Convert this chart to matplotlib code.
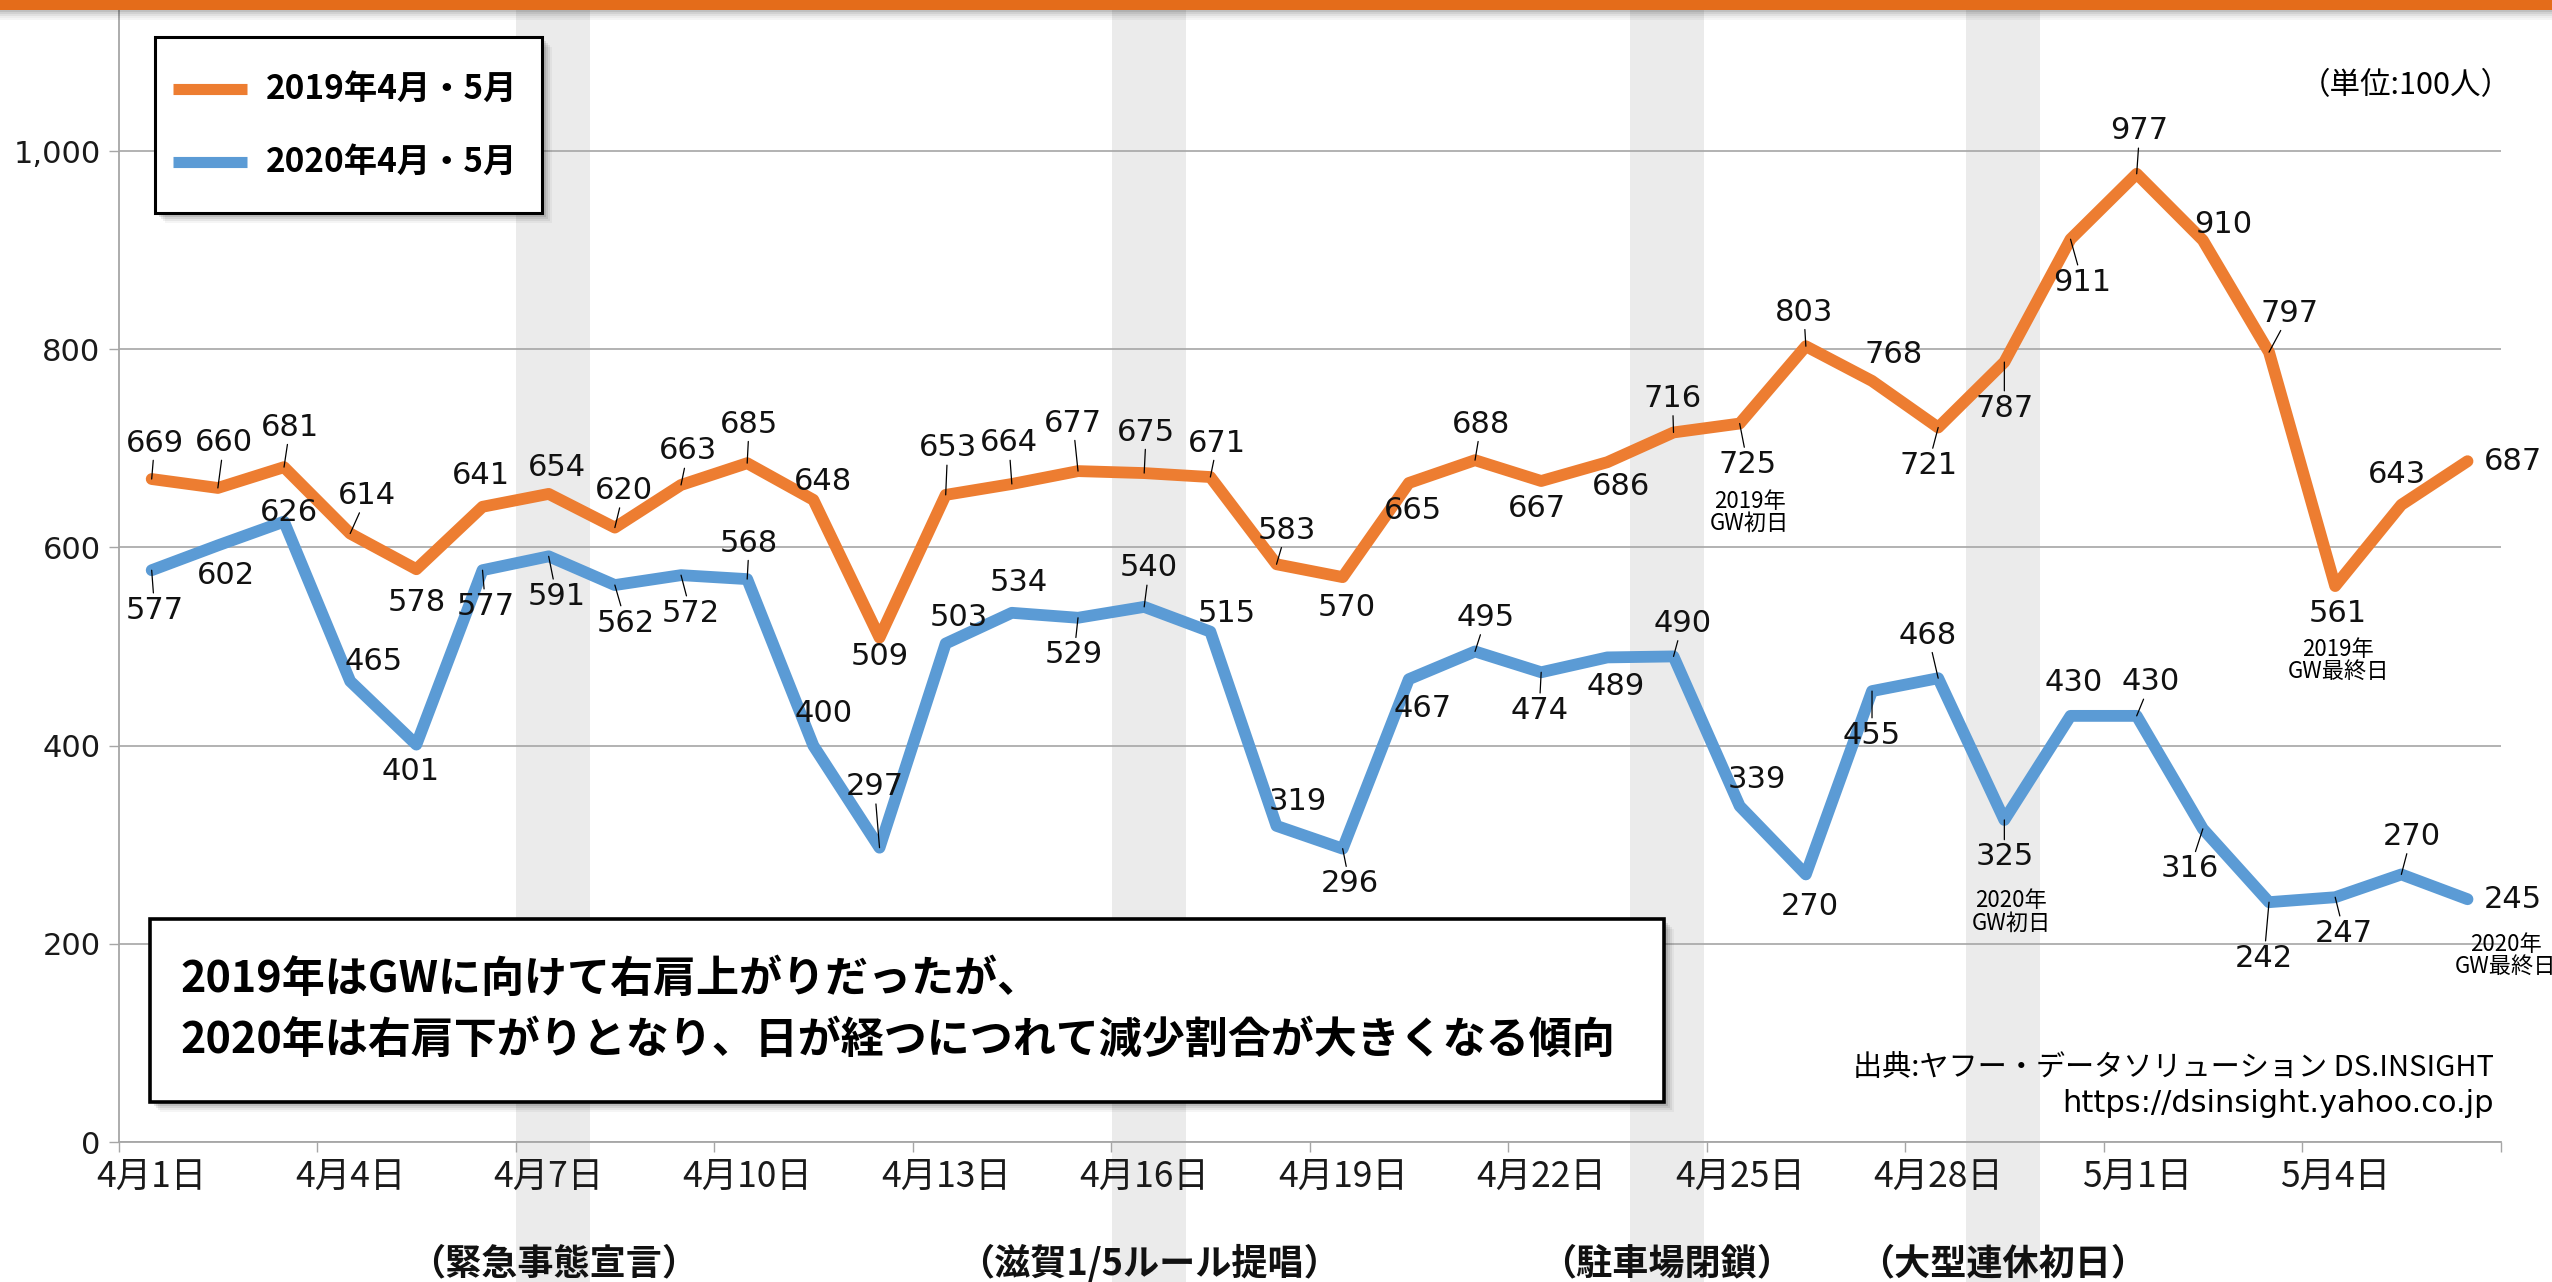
import numpy as np
import matplotlib
matplotlib.use('Agg')
import matplotlib.pyplot as plt
from matplotlib.patches import Rectangle
from matplotlib.lines import Line2D
from matplotlib.transforms import blended_transform_factory
from matplotlib.ticker import FuncFormatter

plt.rcParams['font.family'] = ['Noto Sans CJK JP', 'DejaVu Sans']

# ---------------- data ----------------
dates = ['4月1日', '4月2日', '4月3日', '4月4日', '4月5日', '4月6日', '4月7日', '4月8日',
         '4月9日', '4月10日', '4月11日', '4月12日', '4月13日', '4月14日', '4月15日',
         '4月16日', '4月17日', '4月18日', '4月19日', '4月20日', '4月21日', '4月22日',
         '4月23日', '4月24日', '4月25日', '4月26日', '4月27日', '4月28日', '4月29日',
         '4月30日', '5月1日', '5月2日', '5月3日', '5月4日', '5月5日', '5月6日']
series_names = ['2019年4月・5月', '2020年4月・5月']
visitors_2019 = [669, 660, 681, 614, 578, 641, 654, 620, 663, 685, 648, 509, 653, 664, 677,
                 675, 671, 583, 570, 665, 688, 667, 686, 716, 725, 803, 768, 721, 787, 911,
                 977, 910, 797, 561, 643, 687]
visitors_2020 = [577, 602, 626, 465, 401, 577, 591, 562, 572, 568, 400, 297, 503, 534, 529,
                 540, 515, 319, 296, 467, 495, 474, 489, 490, 339, 270, 455, 468, 325, 430,
                 430, 316, 242, 247, 270, 245]
y_ticks = [0, 200, 400, 600, 800, 1000]
event_dates = ['4月7日', '4月16日', '4月24日', '4月29日']
event_names = ['（緊急事態宣言）', '（滋賀1/5ルール提唱）', '（駐車場閉鎖）', '（大型連休初日）']
notes_2019_dates = ['4月25日', '5月4日']
notes_2019_texts = ['2019年\nGW初日', '2019年\nGW最終日']
notes_2020_dates = ['4月29日', '5月6日']
notes_2020_texts = ['2020年\nGW初日', '2020年\nGW最終日']
unit_text = '（単位:100人）'
message_lines = ['2019年はGWに向けて右肩上がりだったが、',
                 '2020年は右肩下がりとなり、日が経つにつれて減少割合が大きくなる傾向']
source_lines = ['出典:ヤフー・データソリューション DS.INSIGHT', 'https://dsinsight.yahoo.co.jp']

# ---------------- layout (label offsets in px, +y = down) ----------------
off_2019 = [(3, -36), (6, -45), (6, -40), (17, -38), (0, 33), (-2, -31), (8, -26), (9, -37),
            (7, -34), (2, -39), (10, -18), (0, 19), (2, -47), (-3, -41), (-5, -48), (2, -41),
            (7, -34), (10, -34), (4, 30), (4, 28), (6, -36), (-4, 27), (14, 24), (-1, -34),
            (8, 41), (-2, -34), (22, -26), (-10, 38), (0, 46), (12, 43), (3, -43), (20, -16),
            (21, -39), (3, 27), (-4, -30), (45, 0)]
lead_2019 = [1, 1, 1, 1, 0, 0, 0, 1, 1, 1, 0, 0, 1, 1, 1, 1, 1, 1, 0, 0, 1, 0, 0, 1,
             1, 1, 0, 1, 1, 1, 1, 0, 1, 0, 0, 0]
off_2020 = [(3, 40), (8, 30), (5, -9), (23, -20), (-6, 27), (3, 36), (8, 40), (11, 38),
            (10, 38), (2, -36), (10, -32), (-5, -61), (13, -26), (7, -30), (-4, 37), (5, -39),
            (16, -18), (21, -24), (7, 35), (14, 29), (11, -34), (-2, 38), (8, 29), (9, -33),
            (17, -27), (4, 32), (0, 44), (-10, -43), (0, 37), (3, -33), (14, -34), (-13, 40),
            (-5, 56), (9, 36), (10, -38), (45, 0)]
lead_2020 = [1, 0, 0, 0, 0, 1, 1, 1, 1, 1, 0, 1, 0, 0, 1, 1, 0, 0, 1, 0, 1, 1, 0, 1,
             0, 0, 1, 1, 1, 0, 1, 1, 1, 1, 1, 0]
note_off_2019 = [(10, 89), (3, 74)]
note_off_2020 = [(7, 92), (38, 56)]
band_shift = [0.0, 0.0, -0.17, -0.09]

W, H = 2552, 1282
ORANGE = '#ED7D31'
BLUE = '#5B9BD5'
GRID = '#A6A6A6'


def fx(px):
    return px / W


def fy(py):
    return 1 - py / H


fig = plt.figure(figsize=(W / 100, H / 100), dpi=100)
fig.patch.set_facecolor('white')
ax = fig.add_axes([fx(118.6), fy(1142), (2500.6 - 118.6) / W, (1142 - 10) / H])
ax.set_facecolor('white')

x = np.arange(len(dates))
ax.set_xlim(-0.5, len(dates) - 0.5)
ax.set_ylim(0, 1142.3)

# event bands
trans = blended_transform_factory(ax.transData, fig.transFigure)
for d, name, sh in zip(event_dates, event_names, band_shift):
    i = dates.index(d)
    ax.add_patch(Rectangle((i - 0.49 + sh, 0), 1.12, fy(10), transform=trans,
                           facecolor='#EBEBEB', edgecolor='none', zorder=0.2, clip_on=False))
    ax.text(i + 0.07 + sh, fy(1264), name, transform=trans, ha='center', va='center',
            fontsize=26, fontweight='bold', color='#111111')

# lines
ax.plot(x, visitors_2019, color=ORANGE, lw=8.5, solid_joinstyle='round',
        solid_capstyle='round', zorder=3)
ax.plot(x, visitors_2020, color=BLUE, lw=8.5, solid_joinstyle='round',
        solid_capstyle='round', zorder=3)

# axes styling
for s in ['top', 'right']:
    ax.spines[s].set_visible(False)
for s in ['left', 'bottom']:
    ax.spines[s].set_color(GRID)
    ax.spines[s].set_linewidth(1.3)
ax.set_yticks(y_ticks)
ax.yaxis.set_major_formatter(FuncFormatter(lambda v, p: f'{int(v):,}'))
ax.tick_params(axis='y', length=7, width=1.0, color=GRID, pad=6, labelsize=22,
               labelcolor='#1a1a1a')
for lab in ax.get_yticklabels():
    lab.set_fontfamily('DejaVu Sans')
ax.yaxis.grid(True, color=GRID, lw=1.2)
ax.set_axisbelow(True)

ax.set_xticks(x[::3])
ax.set_xticklabels(dates[::3])
ax.set_xticks(np.arange(-0.5, len(dates), 3), minor=True)
ax.tick_params(axis='x', which='major', length=0, pad=12, labelsize=25.5, labelcolor='#1a1a1a')
ax.tick_params(axis='x', which='minor', length=7, width=1.0, color=GRID)


# data labels
def label_series(vals, offs, leads):
    for i, (v, (dx, dy), ld) in enumerate(zip(vals, offs, leads)):
        kw = {}
        if ld:
            kw['arrowprops'] = dict(arrowstyle='-', color='black', lw=0.9,
                                    shrinkA=0, shrinkB=0)
        ax.annotate(f'{v}', xy=(i, v), xytext=(dx, -dy), textcoords='offset pixels',
                    ha='center', va='center', fontsize=22, family='DejaVu Sans',
                    color='#111111', zorder=6, annotation_clip=False, **kw)


label_series(visitors_2019, off_2019, lead_2019)
label_series(visitors_2020, off_2020, lead_2020)

for d, t, (dx, dy) in zip(notes_2019_dates, notes_2019_texts, note_off_2019):
    i = dates.index(d)
    ax.annotate(t, xy=(i, visitors_2019[i]), xytext=(dx, -dy), textcoords='offset pixels',
                ha='center', va='center', fontsize=16, linespacing=0.95, zorder=6,
                annotation_clip=False)
for d, t, (dx, dy) in zip(notes_2020_dates, notes_2020_texts, note_off_2020):
    i = dates.index(d)
    ax.annotate(t, xy=(i, visitors_2020[i]), xytext=(dx, -dy), textcoords='offset pixels',
                ha='center', va='center', fontsize=16, linespacing=0.95, zorder=6,
                annotation_clip=False)


# ---------------- figure-level decorations ----------------
def shadow_box(x0, y0, x1, y1, lw):
    for off, a in [(10, 0.04), (8, 0.06), (6, 0.08), (4, 0.10)]:
        fig.add_artist(Rectangle((fx(x0 + off), fy(y1 + off)), (x1 - x0) / W, (y1 - y0) / H,
                                 transform=fig.transFigure, facecolor='black', alpha=a,
                                 edgecolor='none', zorder=4))
    fig.add_artist(Rectangle((fx(x0), fy(y1)), (x1 - x0) / W, (y1 - y0) / H,
                             transform=fig.transFigure, facecolor='white',
                             edgecolor='black', lw=lw, zorder=5))


# legend
shadow_box(155, 37, 542, 213, 2.2)
for yy, col, name in [(89, ORANGE, series_names[0]), (162, BLUE, series_names[1])]:
    fig.add_artist(Line2D([fx(173), fx(247)], [fy(yy), fy(yy)], transform=fig.transFigure,
                          color=col, lw=8, solid_capstyle='butt', zorder=6))
    fig.text(fx(266), fy(yy), name, ha='left', va='center', fontsize=24,
             fontweight='bold', zorder=6)

# message box
shadow_box(150, 919, 1664, 1102, 2.6)
fig.text(fx(180), fy(979), message_lines[0], ha='left', va='center', fontsize=31,
         fontweight='bold', zorder=6)
fig.text(fx(180), fy(1040), message_lines[1], ha='left', va='center', fontsize=31,
         fontweight='bold', zorder=6)

# source / unit
fig.text(fx(2494), fy(1068), source_lines[0], ha='right', va='center', fontsize=21, zorder=6)
fig.text(fx(2494), fy(1103), source_lines[1], ha='right', va='center', fontsize=22,
         family='DejaVu Sans', zorder=6)
fig.text(fx(2512), fy(86), unit_text, ha='right', va='center', fontsize=22, zorder=6)

# top orange bar with shadow
for k, a in enumerate([0.25, 0.18, 0.12, 0.07, 0.04]):
    fig.add_artist(Rectangle((0, fy(10 + 2 * (k + 1))), 1, 2 / H, transform=fig.transFigure,
                             facecolor='black', alpha=a, edgecolor='none', zorder=9))
fig.add_artist(Rectangle((0, fy(10)), 1, 10 / H, transform=fig.transFigure,
                         facecolor='#E46C1A', edgecolor='none', zorder=10))

fig.savefig('out.png', dpi=100)
